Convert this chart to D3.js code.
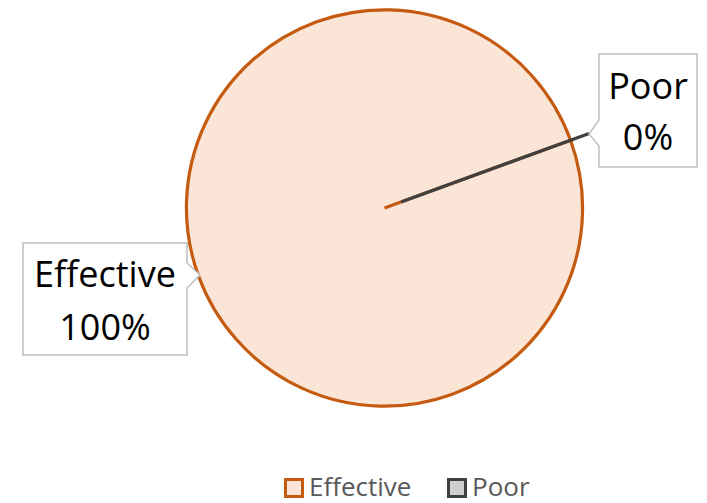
<!DOCTYPE html>
<html>
<head>
<meta charset="utf-8">
<script src="https://cdn.jsdelivr.net/npm/d3@7"></script>
<style>
  body { margin: 0; background: #fff; }
  text { font-family: "Open Sans", sans-serif; }
</style>
</head>
<body>
<div id="chart"></div>
<script>
// data
const categories = ["Effective", "Poor"];
const values = [100, 0];
const percentLabels = ["100%", "0%"];
const fills = ["#FBE5D6", "#D0CECE"];
const strokes = ["#C55A11", "#404040"];

const width = 707, height = 503;
const cx = 384.5, cy = 208, radius = 198;
const explode = [0, 19];

const svg = d3.select("#chart").append("svg")
    .attr("width", width)
    .attr("height", height);

const pieData = d3.pie()
    .sort(null)
    .startAngle(70 * Math.PI / 180)
    .endAngle(430 * Math.PI / 180)
    .value(d => d.value)(categories.map((c, i) => ({name: c, value: values[i], i: i})));

const arc = d3.arc().innerRadius(0).outerRadius(radius);

const g = svg.append("g").attr("transform", `translate(${cx},${cy})`);

const offset = d => {
    let mid = (d.startAngle + d.endAngle) / 2;
    let off = explode[d.data.i];
    return [off * Math.sin(mid), -off * Math.cos(mid)];
};

g.selectAll(".slice")
    .data(pieData)
    .enter()
    .append("path")
    .attr("class", "slice")
    .attr("transform", d => `translate(${offset(d)})`)
    .attr("fill", d => fills[d.data.i])
    .attr("stroke", d => strokes[d.data.i])
    .attr("stroke-width", 3.2)
    .attr("stroke-linejoin", "round")
    .attr("d", arc);

// radial edge of the (almost full) first slice, d3 draws it as a plain circle
const first = pieData[0];
g.insert("line", ".slice:nth-child(2)")
    .attr("x1", 0).attr("y1", 0)
    .attr("x2", radius * Math.sin(first.startAngle))
    .attr("y2", -radius * Math.cos(first.startAngle))
    .attr("stroke", strokes[0])
    .attr("stroke-width", 3.2);

// callouts: box + pointer
const callouts = [
    {i: 0, x: 23, y: 243, w: 164, h: 112, tip: [200, 275], side: "right", b0: 263, b1: 288, t1: 287, t2: 340},
    {i: 1, x: 599, y: 54, w: 98, h: 113, tip: [589, 134], side: "left", b0: 120, b1: 146, t1: 99, t2: 150}
];

callouts.forEach(c => {
    let x0 = c.x, x1 = c.x + c.w, y0 = c.y, y1 = c.y + c.h;
    let p;
    if (c.side === "right") {
        p = [[x0, y0], [x1, y0], [x1, c.b0], c.tip, [x1, c.b1], [x1, y1], [x0, y1]];
    } else {
        p = [[x0, y0], [x1, y0], [x1, y1], [x0, y1], [x0, c.b1], c.tip, [x0, c.b0]];
    }
    svg.append("path")
        .attr("d", d3.line()(p) + "Z")
        .attr("fill", "#fff")
        .attr("stroke", "#BFBFBF")
        .attr("stroke-width", 1.5);
    svg.append("text")
        .attr("x", (x0 + x1) / 2)
        .attr("y", c.t1)
        .attr("text-anchor", "middle")
        .attr("font-size", 36)
        .attr("fill", "#000")
        .text(categories[c.i]);
    svg.append("text")
        .attr("x", (x0 + x1) / 2)
        .attr("y", c.t2)
        .attr("text-anchor", "middle")
        .attr("font-size", 36)
        .attr("fill", "#000")
        .text(percentLabels[c.i]);
});

// legend
const legendX = [284, 447];
const legend = svg.append("g").attr("class", "legend");
categories.forEach((c, i) => {
    legend.append("rect")
        .attr("x", legendX[i] + 1.5)
        .attr("y", 479.5)
        .attr("width", 17)
        .attr("height", 17)
        .attr("fill", fills[i])
        .attr("stroke", strokes[i])
        .attr("stroke-width", 3);
    legend.append("text")
        .attr("x", legendX[i] + 25)
        .attr("y", 495.5)
        .attr("font-size", 26)
        .attr("fill", "#595959")
        .text(c);
});
</script>
</body>
</html>
